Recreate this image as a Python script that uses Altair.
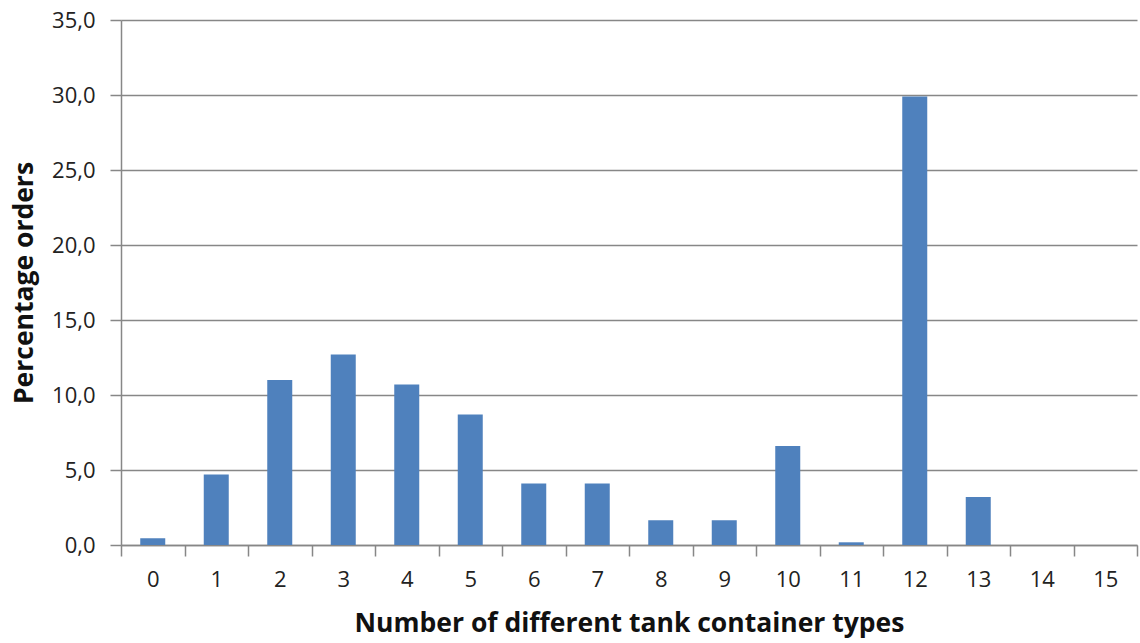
import altair as alt
import pandas as pd

# Share of orders by number of distinct tank container types
types = list(range(16))
percent = [0.45, 4.7, 11.0, 12.7, 10.7, 8.7, 4.1, 4.1, 1.65, 1.65, 6.6, 0.18, 29.9, 3.2, 0.0, 0.0]
y_ticks = [0, 5, 10, 15, 20, 25, 30, 35]
# category boundaries (ticks) plus category centres (labels)
x_marks = [v / 2 for v in range(-1, 32)]

df = pd.DataFrame({"types": types, "percent": percent})

FONT = "Open Sans"
GRAY = "#878787"
TEXT = "#222222"

chart = (
    alt.Chart(df)
    .mark_bar(color="#4F81BD", size=25)
    .encode(
        x=alt.X(
            "types:Q",
            scale=alt.Scale(domain=[-0.5, 15.5], nice=False, zero=False, padding=0),
            axis=alt.Axis(
                title="Number of different tank container types",
                values=x_marks,
                labelExpr="datum.value % 1 === 0 ? format(datum.value, 'd') : ''",
                titleFont=FONT,
                titleFontSize=26.5,
                titleFontWeight="bold",
                titleColor="#111111",
                titlePadding=20,
                labelAngle=0,
                labelFont=FONT,
                labelFontSize=22,
                labelColor=TEXT,
                labelPadding=13,
                labelFlush=False,
                labelOverlap=False,
                tickSize=11,
                tickColor=GRAY,
                tickOpacity=alt.ConditionalAxisNumber(
                    condition={"test": "datum.value % 1 === 0", "value": 0}, value=1
                ),
                domainColor=GRAY,
                domainWidth=1.5,
                tickWidth=1.5,
                grid=False,
            ),
        ),
        y=alt.Y(
            "percent:Q",
            scale=alt.Scale(domain=[0, 35], nice=False),
            axis=alt.Axis(
                title="Percentage orders",
                values=y_ticks,
                labelExpr="replace(format(datum.value, '.1f'), '.', ',')",
                titleFont=FONT,
                titleFontSize=26.5,
                titleFontWeight="bold",
                titleColor="#111111",
                titlePadding=13,
                labelFont=FONT,
                labelFontSize=22,
                labelColor=TEXT,
                labelPadding=15,
                tickSize=11,
                tickColor=GRAY,
                domainColor=GRAY,
                domainWidth=1.5,
                tickWidth=1.5,
                grid=True,
                gridColor=GRAY,
                gridWidth=1.5,
            ),
        ),
    )
    .properties(
        width=1016,
        height=525,
        autosize=alt.AutoSizeParams(type="none"),
        padding={"left": 121, "top": 20, "right": 3, "bottom": 98},
    )
    .configure_view(stroke=None)
)

chart.save("out.html", embed_options={"renderer": "svg", "actions": False})
